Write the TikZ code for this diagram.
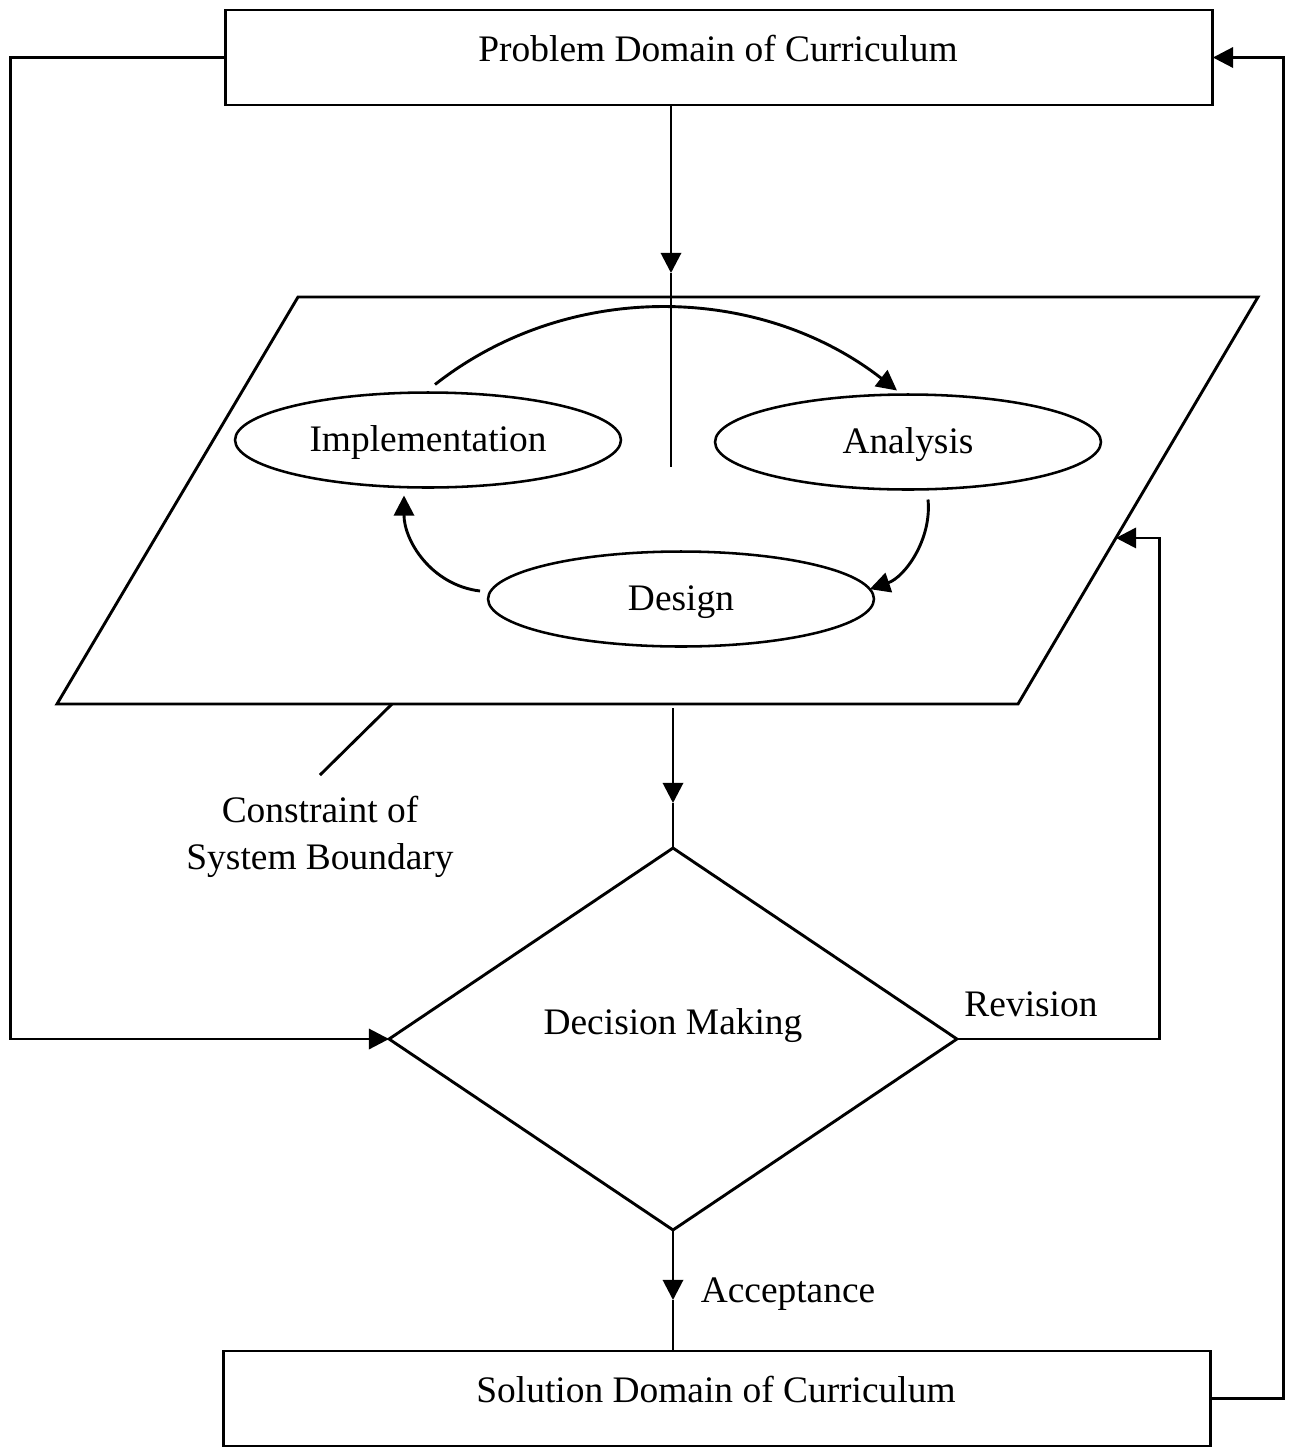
\documentclass[tikz,border=0pt]{standalone}
\usepackage{fontspec}
\setmainfont{Liberation Serif}
\usetikzlibrary{arrows.meta,shapes.geometric,calc}
\begin{document}
\begin{tikzpicture}[x=0.02cm, y=-0.02cm, line width=1.65pt,
  txt/.style={font=\fontsize{21.3}{27}\selectfont, inner sep=0pt},
  arr/.style={-{Triangle[length=11.5pt,width=11.5pt]}},
  domainbox/.style={draw, rectangle, minimum width=19.76cm, minimum height=1.9cm, inner sep=0pt, outer sep=0pt},
  phase/.style={draw, ellipse, minimum width=7.72cm, minimum height=1.9cm, inner sep=0pt, outer sep=0pt, line width=1.45pt, font=\fontsize{21.3}{27}\selectfont, text height=17.8pt},
  decision/.style={draw, diamond, minimum width=11.36cm, minimum height=7.64cm, inner sep=0pt, outer sep=0pt}]
\useasboundingbox (0,0) rectangle (1291,1448);

% domain boxes
\node[domainbox] (prob) at (719,57.5) {};
\node[txt] (probtxt) at (718,48) {Problem Domain of Curriculum};
\node[domainbox] (sol) at (717,1398.5) {};
\node[txt] (soltxt) at (716,1389) {Solution Domain of Curriculum};

% system boundary (parallelogram)
\coordinate (pTL) at (298,297);
\coordinate (pTR) at (1258,297);
\coordinate (pBR) at (1018,704);
\coordinate (pBL) at (57,704);
\draw (pTL) -- (pTR) -- (pBR) -- (pBL) -- cycle;

% phases
\node[phase] (impl) at (428,440) {Implementation};
\node[phase] (ana) at (908,442) {Analysis};
\node[phase] (des) at (681,599) {Design};

% decision
\node[decision] (dm) at (673,1039) {};
\node[txt] (dmtxt) at (673,1026) {Decision Making};

% labels
\node[txt, align=center] (cst) at (320,837) {Constraint of\\System Boundary};
\node[txt] (revtxt) at (1031,1004) {Revision};
\node[txt] (acctxt) at (788,1294) {Acceptance};

% constraint pointer
\coordinate (cA) at (392,704);
\coordinate (cB) at (320,775);
\draw (cA) -- (cB);

% cycle arcs
\draw[arr] ([shift={(7,-8)}]impl.north) .. controls +(135,-106) and +(-136,-106) .. ([shift={(-11,-4)}]ana.north);
\draw[arr] ([shift={(20,10)}]ana.south) .. controls +(4,40) and +(35,-12) .. (des.3);
\draw[arr] ([shift={(-8,-8)}]des.west) .. controls +(-49,-6) and +(0,45) .. ([shift={(-24,8)}]impl.south);

% problem -> boundary
\coordinate (m1) at (671,273);
\coordinate (pin) at (671,467);
\draw[arr] (m1 |- prob.south) -- (m1);
\draw (m1) -- (pin);

% boundary -> decision
\coordinate (pb) at (673,708);
\coordinate (m2) at (673,803);
\draw[arr] (pb) -- (m2);
\draw (m2) -- (dm.north);

% decision -> solution
\coordinate (m3) at (673,1300);
\draw[arr] (dm.south) -- (m3);
\draw (m3) -- (m3 |- sol.north);

% revision loop
\coordinate (rv) at ($(pTR)!0.592!(pBR)$);
\draw[arr] (dm.east) -| ($(rv)+(44,0)$) -- (rv);

% left loop
\draw[arr] (prob.west) -- ++(-215,0) |- (dm.west);

% right loop
\draw[arr] (sol.east) -- ++(73,0) |- (prob.east);
\end{tikzpicture}
\end{document}
